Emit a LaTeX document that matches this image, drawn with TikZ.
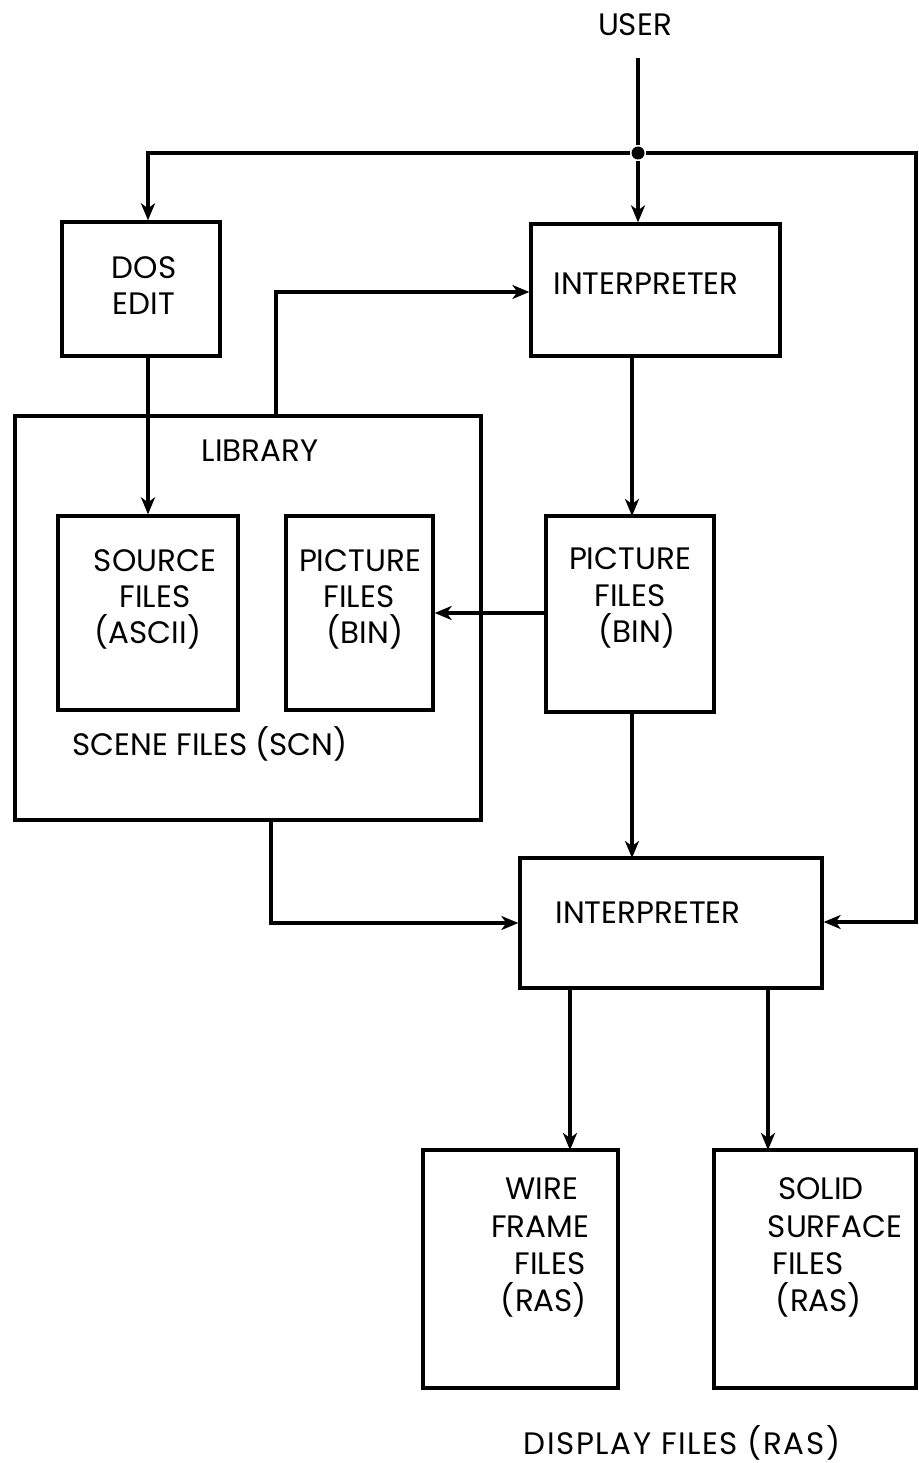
\documentclass[tikz,border=0pt]{standalone}
\usepackage{fontspec}
\setmainfont{Poppins}
\usetikzlibrary{arrows.meta,calc}
\begin{document}
\begin{tikzpicture}[x=1pt,y=-1pt,
  line width=3.3pt,
  box/.style={draw,rectangle,line width=3.3pt,inner sep=0pt},
  lbl/.style={anchor=base,inner sep=0pt,font=\fontsize{31}{37}\selectfont},
  arr/.style={-{Stealth[length=17pt,width=14pt,inset=5pt]}},
  junction/.style={circle,fill,inner sep=0pt,minimum size=13pt}]
\useasboundingbox (0,0) rectangle (918,1463);

% boxes
\node[box,minimum width=158pt,minimum height=134pt] (dos)   at (141,289)   {};
\node[box,minimum width=249pt,minimum height=132pt] (int1)  at (655.5,290) {};
\node[box,minimum width=466pt,minimum height=404pt] (lib)   at (248,618)   {};
\node[box,minimum width=180pt,minimum height=194pt] (src)   at (148,613)   {};
\node[box,minimum width=147pt,minimum height=194pt] (picl)  at (359.5,613) {};
\node[box,minimum width=168pt,minimum height=196pt] (picr)  at (630,614)   {};
\node[box,minimum width=302pt,minimum height=130pt] (int2)  at (671,923)   {};
\node[box,minimum width=195pt,minimum height=238pt] (wire)  at (520.5,1269){};
\node[box,minimum width=202pt,minimum height=238pt] (solid) at (815,1269)  {};

% texts (placed on their baselines)
\node[lbl] (user)   at (635,36)   {USER};
\node[lbl] (dos1)   at (144,278)  {DOS};
\node[lbl] (dos2)   at (144,314)  {EDIT};
\node[lbl] (int1tx) at (646,294)  {INTERPRETER};
\node[lbl] (libtx)  at (260,461)  {LIBRARY};
\node[lbl] (src1)   at (155,571)  {SOURCE};
\node[lbl] (src2)   at (155,607)  {FILES};
\node[lbl] (src3)   at (148,643)  {(ASCII)};
\node[lbl] (picl1)  at (360,571)  {PICTURE};
\node[lbl] (picl2)  at (359,607)  {FILES};
\node[lbl] (picl3)  at (365,643)  {(BIN)};
\node[lbl] (picr1)  at (630,569)  {PICTURE};
\node[lbl] (picr2)  at (630,606)  {FILES};
\node[lbl] (picr3)  at (637,642)  {(BIN)};
\node[lbl] (scntx)  at (210,755)  {SCENE FILES\hspace{8pt}(SCN)};
\node[lbl] (int2tx) at (648,923)  {INTERPRETER};
\node[lbl] (wire1)  at (542,1199) {WIRE};
\node[lbl] (wire2)  at (540,1237) {FRAME};
\node[lbl] (wire3)  at (550,1274) {FILES};
\node[lbl] (wire4)  at (544,1311) {(RAS)};
\node[lbl] (solid1) at (821,1199) {SOLID};
\node[lbl] (solid2) at (835,1237) {SURFACE};
\node[lbl] (solid3) at (808,1274) {FILES};
\node[lbl] (solid4) at (819,1311) {(RAS)};
\node[lbl] (disptx) at (682,1454) {\addfontfeatures{LetterSpace=5}DISPLAY FILES (RAS)};

% junction and branch points
\coordinate (top)  at (638,58);
\node[junction] (dot) at (638,153) {};
\coordinate (lft)  at (148,153);
\coordinate (rgt)  at (916,153);
\coordinate (rlo)  at (916,922);
\coordinate (libup) at (276,292);
\coordinate (libdn) at (271,923);

% connectors
\draw (top) -- (dot);
\draw[arr] (dot) -- (dot |- int1.north);
\draw[arr] (dot) -- (lft) -- (lft |- dos.north);
\draw[arr] (dot) -- (rgt) -- (rlo) -- (rlo -| int2.east);
\draw[arr] (libup |- lib.north) -- (libup) -- (libup -| int1.west);
\draw[arr] (lft |- dos.south) -- (lft |- src.north);
\draw[arr] (632,356) -- (632,516);
\draw[arr] (picr.west |- 0,613) -- (picl.east |- 0,613);
\draw[arr] (632,712) -- (632,858);
\draw[arr] (libdn |- lib.south) -- (libdn) -- (libdn -| int2.west);
\draw[arr] (570,988) -- (570,1150);
\draw[arr] (768,988) -- (768,1150);
\end{tikzpicture}
\end{document}
